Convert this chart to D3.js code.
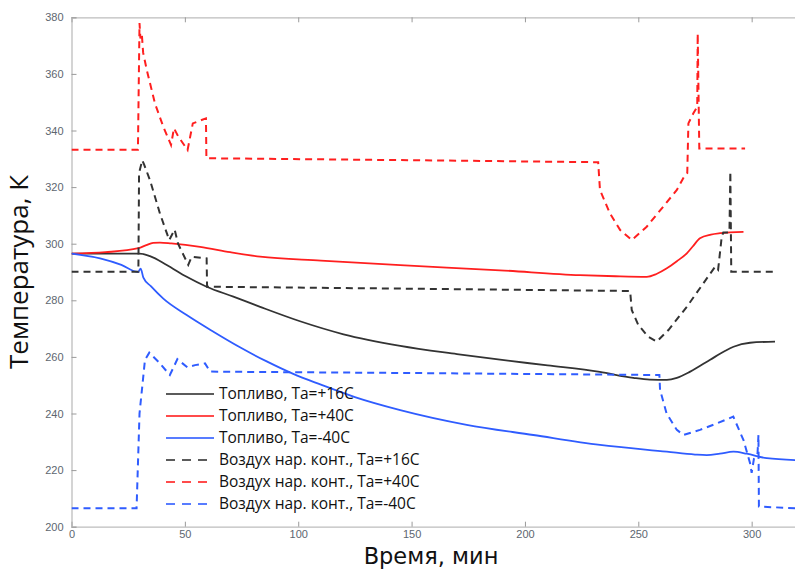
<!DOCTYPE html>
<html><head><meta charset="utf-8">
<script src="https://cdn.jsdelivr.net/npm/d3@7"></script>
<style>
html,body{margin:0;padding:0;background:#fff;}
svg{display:block;font-family:"Open Sans","Noto Sans",sans-serif;}
</style></head>
<body><svg id="c" width="795" height="569"></svg>
<script>
// ---- data (time, min ; temperature, K) ----
const xTicks = [0, 50, 100, 150, 200, 250, 300];
const yTicks = [200, 220, 240, 260, 280, 300, 320, 340, 360, 380];

const fuel16 = [[0,296.5],[20,296.5],[30,296.5],[34.6,295.6],[42,292.5],[50.8,288.3],[59.6,284.8],[71.4,281.3],[83.2,277.7],[100.8,272.6],[120,268],[145,263.9],[170,261],[189,259],[210,257],[233,254.7],[247.8,252.6],[255,252],[262.6,251.9],[267,252.6],[272.9,254.8],[281.7,259],[288,262],[292,263.6],[299.3,265],[310.3,265.4]];
const fuel40 = [[0,296.5],[15,297],[29.5,298.4],[33,299.5],[36,300.3],[39,300.4],[44,300.1],[56.7,298.9],[70,297],[83.2,295.4],[110,294],[145,292.4],[189,290.6],[224.3,288.9],[240,288.5],[253.7,288.3],[258,289.3],[262.6,291.3],[267,293.8],[271.4,296.6],[274,299],[277.2,301.9],[282,303.2],[286.1,303.7],[296.4,304.2]];
const fuelM40 = [[0,296.5],[12.6,294.8],[22,292.5],[29.3,290],[30.5,291.2],[31.7,288],[35,285],[40.5,280.6],[50.8,274.8],[62.6,268.9],[74.3,263.4],[86.1,258.4],[97.8,254],[110,250.2],[125,245.8],[145,241.2],[174.3,236],[203.7,232.4],[233.1,228.9],[262.6,226.5],[275,225.5],[280.2,225.3],[286,225.8],[292,226.5],[297.8,225.8],[306.7,224.2],[320,223.5]];

const air16 = [[0,290.1],[29.5,290.1],[29.8,325],[31.2,329.5],[32,328],[34.6,322.5],[39,310.7],[43.1,301.3],[45.5,305],[47,300],[51.5,292.5],[53,295.4],[59.6,294.8],[59.8,284.8],[150,284.1],[246.4,283.3],[247.1,276.6],[250,271.3],[254.4,267.1],[258.1,265.4],[263.3,269.5],[271.4,277.7],[278.7,286],[283.9,291.9],[285.2,290.8],[286.8,302.5],[287.5,304],[290.2,304],[290.6,325.5],[291,290.1],[311,290.1]];
const air40 = [[0,333.2],[29.3,333.2],[30,378],[30.4,372.5],[31,374.2],[31.6,367.5],[33.2,361.4],[36.8,349.6],[40.5,341.3],[43.9,334.9],[45.2,340.8],[47,338],[51.2,333.1],[53.5,342.5],[59.3,344.3],[59.5,330.2],[150,329.5],[232.3,328.8],[233.1,319],[237.5,310.7],[242,304.8],[247.1,301.3],[253.7,306],[261,313.1],[267,319],[270.6,324.3],[271.6,325],[272.1,342.5],[274.3,346.1],[276,348.4],[276.2,374.3],[276.9,333.6],[297.1,333.6]];
const airM40 = [[0,206.5],[28.7,206.5],[30,240],[32.4,258.9],[34.3,261.5],[38.3,258.3],[43.4,253.6],[46.7,259.2],[51.1,256.3],[54.5,257.1],[58.9,257.7],[61.1,254.8],[150,254.3],[259.3,253.6],[259.6,248.3],[262.5,240],[267,234.2],[269.9,232.4],[277.2,234.2],[284.6,236.5],[291.9,238.9],[296.4,230.6],[299.3,222.4],[300,219],[301,224],[302.6,226],[303,232.4],[303.2,207.1],[320,206.5]];

const seriesNames = ["Топливо, Ta=+16C","Топливо, Ta=+40C","Топливо, Ta=-40C","Воздух нар. конт., Ta=+16C","Воздух нар. конт., Ta=+40C","Воздух нар. конт., Ta=-40C"];
const seriesData = [fuel16, fuel40, fuelM40, air16, air40, airM40];
const seriesColors = ["#333333","#ff1f1f","#2f5cff","#333333","#ff1f1f","#2f5cff"];
const seriesDash = [null,null,null,"7,5","7,5","7,5"];

// ---- drawing ----
const svg = d3.select("#c");
const x = d3.scaleLinear().domain([0,320]).range([71.5,797]);
const y = d3.scaleLinear().domain([200,380]).range([526.7,17.3]);

svg.append("defs").append("clipPath").attr("id","clip")
  .append("rect").attr("x",71.5).attr("y",17.3).attr("width",797-71.5).attr("height",526.7-17.3);

const axCol = "#bdbdbd";
const gx = svg.append("g").attr("transform","translate(0,526.7)")
  .call(d3.axisBottom(x).tickValues(xTicks).tickSize(-5).tickPadding(4));
const gxt = svg.append("g").attr("transform","translate(0,17.3)")
  .call(d3.axisTop(x).tickValues(xTicks).tickSize(-5).tickFormat(""));
const gy = svg.append("g").attr("transform","translate(71.5,0)")
  .call(d3.axisLeft(y).tickValues(yTicks).tickSize(-5).tickPadding(8));
[gx,gxt,gy].forEach(g=>{
  g.select(".domain").attr("stroke",axCol).attr("stroke-width",1.3);
  g.selectAll(".tick line").attr("stroke","#9a9a9a");
  g.selectAll(".tick text").attr("fill","#5d6670")
    .style("font-size","11px").style("font-family","'Liberation Sans',Arial,sans-serif");
});

const lineSmooth = d3.line().x(d=>x(d[0])).y(d=>y(d[1])).curve(d3.curveMonotoneX);
const lineSharp = d3.line().x(d=>x(d[0])).y(d=>y(d[1]));
const plot = svg.append("g").attr("clip-path","url(#clip)");
seriesData.forEach((s,i)=>{
  plot.append("path").datum(s).attr("d", i<3 ? lineSmooth : lineSharp)
    .attr("fill","none").attr("stroke",seriesColors[i])
    .attr("stroke-width",i<3?1.8:2)
    .attr("stroke-dasharray",seriesDash[i]);
});

// legend
const lg = svg.append("g");
seriesNames.forEach((n,i)=>{
  const yy = 394 + i*22;
  lg.append("line").attr("x1",166).attr("x2",214).attr("y1",yy).attr("y2",yy)
    .attr("stroke",seriesColors[i]).attr("stroke-width",2)
    .attr("stroke-dasharray",seriesDash[i] ? "9,7" : null).attr("opacity",0.8);
  lg.append("text").attr("x",219).attr("y",yy).attr("dy","0.35em")
    .style("font-size","15.5px").attr("fill","#111").text(n);
});

// axis titles
svg.append("text").attr("x",431).attr("y",563.5).attr("text-anchor","middle")
  .style("font-family","'DejaVu Sans',sans-serif")
  .style("font-size","22.5px").attr("fill","#111").text("Время, мин");
svg.append("text").attr("transform","translate(28,272) rotate(-90)").attr("text-anchor","middle")
  .style("font-size","26px").attr("fill","#111").text("Температура, К");
</script></body></html>
